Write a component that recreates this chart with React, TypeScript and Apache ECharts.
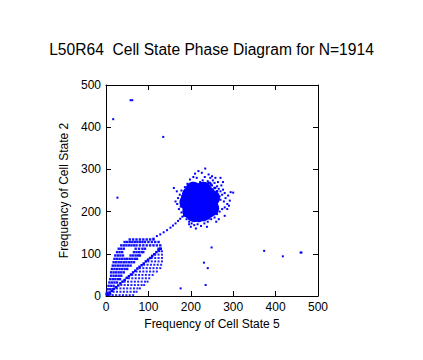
import React, { useEffect, useRef } from "react";
import * as echarts from "echarts";

const titleText = "L50R64  Cell State Phase Diagram for N=1914";
const xName = "Frequency of Cell State 5";
const yName = "Frequency of Cell State 2";
const axisTicks = [0, 100, 200, 300, 400, 500];

// Dense core of the attractor cluster (State 5, State 2)
const coreCentre: number[][] = [[218, 221]];
const coreRing: number[][] = [
  [192, 222], [244, 220], [218, 248], [218, 194], [198, 240], [238, 242],
  [199, 202], [238, 202], [250, 232], [230, 252], [206, 252], [248, 208],
  [228, 196], [208, 194],
];

// Halo of scattered states around the cluster
const haloInner: number[][] = [
  [186, 208], [184, 220], [186, 232], [190, 238], [194, 244], [200, 249], [208, 253],
  [216, 255], [224, 255], [232, 253], [240, 250], [246, 245], [250, 238], [253, 230],
  [256, 222], [254, 212], [251, 204], [246, 197], [240, 190], [232, 187], [222, 185],
  [212, 185], [204, 187], [196, 191], [190, 197], [182, 212], [182, 228], [188, 244],
  [196, 252], [204, 258], [214, 260], [226, 262], [236, 260], [244, 256], [252, 250],
  [258, 244], [260, 236], [262, 228], [260, 216], [258, 206], [254, 196], [248, 190],
  [242, 184], [232, 180], [220, 178], [208, 180], [198, 183], [190, 190], [184, 198],
  [178, 218], [180, 236], [256, 256], [262, 248], [248, 264], [242, 268], [264, 240],
];
const haloPoints: number[][] = [
  [183, 214], [184, 226], [182, 232], [186, 240], [188, 206], [185, 200], [190, 196],
  [192, 248], [196, 252], [194, 190], [199, 186], [204, 183], [210, 180], [216, 182],
  [222, 179], [228, 183], [233, 186], [238, 184], [242, 190], [247, 194], [250, 200],
  [253, 206], [256, 212], [255, 220], [258, 226], [254, 232], [256, 240], [251, 246],
  [247, 250], [243, 256], [238, 258], [232, 256], [226, 260], [220, 258], [214, 262],
  [208, 256], [202, 258], [190, 244], [180, 222], [187, 218], [252, 214], [246, 236],
  [244, 200], [200, 252], [236, 250], [240, 264], [246, 268], [250, 262], [256, 268],
  [262, 260], [266, 254], [270, 248], [262, 248], [258, 256], [252, 274], [246, 280],
  [240, 272], [236, 266], [258, 280], [264, 270], [272, 262], [276, 252], [280, 244],
  [274, 240], [268, 236], [282, 232], [288, 238], [292, 226], [300, 245], [278, 224],
  [286, 218], [270, 228], [264, 238], [250, 284], [242, 288], [233, 282], [228, 274],
  [222, 270], [234, 302], [226, 292], [218, 296], [210, 290], [206, 282], [214, 280],
  [198, 276], [204, 268], [192, 266], [186, 258], [178, 250], [174, 240], [170, 232],
  [176, 212], [172, 206], [168, 218], [178, 198], [184, 190], [190, 182], [196, 176],
  [202, 172], [208, 168], [216, 170], [224, 166], [232, 172], [240, 176], [248, 182],
  [256, 186], [262, 194], [268, 200], [274, 206], [280, 210], [286, 206], [260, 176],
  [238, 164], [212, 160], [200, 164], [196, 170], [164, 224], [160, 256], [167, 248],
  [294, 246], [276, 270], [270, 280], [290, 214], [280, 190], [266, 182],
];

// Trail leading from the low-frequency lobe up to the cluster
const trailPoints: number[][] = [
  [112, 136], [120, 142], [128, 146], [136, 151], [144, 156], [152, 162], [158, 167],
  [164, 172], [170, 178], [175, 183], [180, 188], [184, 193], [188, 198],
];

// Low-frequency lobe: rows of [State 2 value, State 5 values]
const upperBandRows: [number, number[]][] = [
  [4, [1, 5, 10]],
  [8, [2, 8]],
  [16, [4, 10, 16]],
  [24, [6, 12, 18]],
  [32, [8, 14, 20, 26]],
  [40, [10, 16, 22, 28, 33]],
  [48, [12, 18, 24, 30, 36]],
  [56, [12, 18, 24, 30, 36, 42]],
  [64, [14, 20, 26, 32, 38, 44, 50]],
  [72, [16, 22, 28, 34, 40, 46, 52, 58]],
  [80, [18, 24, 30, 36, 42, 48, 54, 60, 66]],
  [88, [20, 26, 32, 38, 44, 50, 56, 62, 68, 73]],
  [96, [22, 28, 34, 40, 58, 64, 70, 76, 80]],
  [104, [26, 32, 38, 66, 72, 78, 84, 88]],
  [112, [30, 36, 42, 70, 78, 86, 92, 124, 128]],
  [120, [36, 42, 48, 54, 60, 66, 72, 80, 88, 96, 104, 112, 120, 128]],
  [128, [44, 50, 56, 62, 68, 74, 80, 86, 92, 100, 108, 116, 124]],
  [134, [56, 64, 72, 80, 88, 96, 104, 112]],
];

const lowerBandRows: [number, number[]][] = [
  [2, [8, 16, 24, 32, 40, 48, 56, 64]],
  [10, [18, 26, 34, 42, 50, 58, 66, 72]],
  [18, [26, 34, 42, 50, 58, 66, 74, 80]],
  [26, [36, 44, 52, 60, 68, 76, 84, 90]],
  [34, [44, 52, 60, 68, 76, 84, 92, 98]],
  [42, [54, 62, 70, 78, 86, 94, 102]],
  [50, [62, 70, 78, 86, 94, 102, 110]],
  [58, [72, 80, 88, 96, 104, 112, 120]],
  [66, [80, 88, 96, 104, 112, 120, 128]],
  [74, [90, 98, 106, 114, 122, 130]],
  [82, [100, 108, 116, 124, 132]],
  [90, [108, 116, 124, 132]],
  [98, [116, 124, 132]],
  [106, [126, 132]],
];

const diagonalPoints: number[][] = [
  [4, 3], [9, 8], [14, 12], [19, 17], [24, 21], [29, 25], [34, 30], [39, 34], [44, 38],
  [49, 43], [54, 47], [59, 51], [64, 56], [69, 60], [74, 65], [79, 69], [84, 73],
  [89, 77], [94, 82], [99, 86], [104, 90], [109, 95], [114, 99], [119, 104],
  [124, 108], [129, 112],
];

// Isolated outliers
const outlierPoints: number[][] = [
  [58, 464], [62, 464], [17, 419], [135, 377], [27, 233], [249, 115], [373, 107],
  [417, 94], [459, 103], [461, 103], [231, 79], [240, 66], [235, 26], [176, 18],
];

const rowsToPoints = (rows: [number, number[]][]) =>
  rows.flatMap(([y, xs]) => xs.map((x) => [x, y]));

const BLUE = "#0000ff";
const FONT = 'Arial, "Liberation Sans", sans-serif';

export default function App() {
  const ref = useRef<HTMLDivElement>(null);
  useEffect(() => {
    if (!ref.current) return;
    const chart = echarts.init(ref.current, null, { renderer: "svg" });
    const axisCommon = {
      type: "value" as const,
      min: axisTicks[0],
      max: axisTicks[axisTicks.length - 1],
      interval: 100,
      splitLine: { show: false },
      axisLine: { show: true, onZero: false, lineStyle: { color: "#000", width: 1 } },
      axisTick: { show: true, inside: true, length: 5, lineStyle: { color: "#000" } },
    };
    const small = (name: string, data: number[][], size: number, color = BLUE) => ({
      type: "scatter" as const,
      name,
      data,
      symbol: "rect",
      symbolSize: size,
      itemStyle: { color, opacity: 1 },
      silent: true,
    });
    const big = (name: string, data: number[][], size: number) => ({
      type: "scatter" as const,
      name,
      data,
      symbol: "circle",
      symbolSize: size,
      itemStyle: { color: BLUE, opacity: 1 },
      silent: true,
    });
    chart.setOption({
      animation: false,
      backgroundColor: "#fff",
      title: {
        text: titleText,
        left: "center",
        top: 36,
        textStyle: { fontFamily: FONT, fontSize: 15.6, fontWeight: "normal", color: "#000" },
      },
      grid: { left: 106, right: 105, top: 85, bottom: 64 },
      xAxis: [
        {
          ...axisCommon,
          position: "bottom",
          name: xName,
          nameLocation: "middle",
          nameGap: 18,
          nameTextStyle: { fontFamily: FONT, fontSize: 12, color: "#000" },
          axisLabel: { fontFamily: FONT, fontSize: 12, color: "#000", margin: 5 },
        },
        { ...axisCommon, position: "top", axisLabel: { show: false } },
      ],
      yAxis: [
        {
          ...axisCommon,
          position: "left",
          name: yName,
          nameLocation: "middle",
          nameGap: 26,
          nameTextStyle: { fontFamily: FONT, fontSize: 12, color: "#000" },
          axisLabel: { fontFamily: FONT, fontSize: 12, color: "#000", margin: 5 },
        },
        { ...axisCommon, position: "right", axisLabel: { show: false } },
      ],
      series: [
        small("upper", rowsToPoints(upperBandRows), 2.4, "#1010ff"),
        small("lower", rowsToPoints(lowerBandRows), 2, "#2020ff"),
        small("diag", diagonalPoints, 2.5),
        small("trail", trailPoints, 2),
        small("haloInner", haloInner, 2.5),
        small("halo", haloPoints, 2),
        small("outliers", outlierPoints, 2),
        big("coreRing", coreRing, 16),
        big("coreCentre", coreCentre, 26),
      ],
    });
    return () => chart.dispose();
  }, []);
  return (
    <div
      ref={ref}
      style={{ position: "fixed", left: 0, top: 0, width: 423, height: 360, background: "#fff" }}
    />
  );
}
